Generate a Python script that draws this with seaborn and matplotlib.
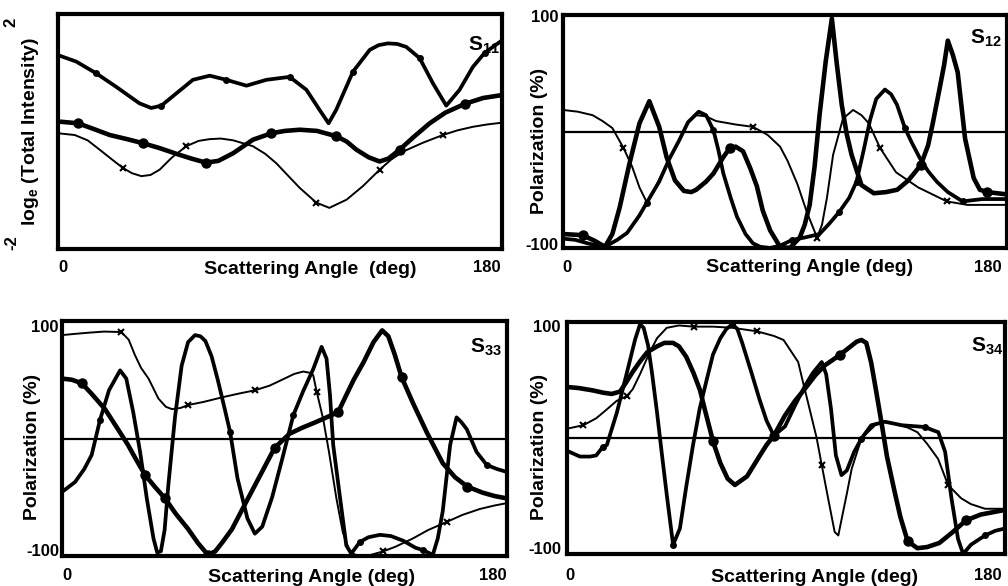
import numpy as np
import pandas as pd
import matplotlib
matplotlib.use("Agg")
import matplotlib.pyplot as plt
import seaborn as sns

# ---------------------------------------------------------------- data
# S11 : log_e of total intensity versus scattering angle (deg)
S11_A_ANG = [0, 7.4, 15.5, 23.6, 33, 37.8, 41.9, 48, 54.7, 61.5, 68.2, 76.4, 84.5, 93.9, 100.7, 106,
             109.7, 112.8, 119.6, 126.4, 130, 133.8, 137.5, 141.2, 146.6, 152, 157.4, 162.8, 168.2, 173, 180]
S11_A_VAL = [1.30, 1.19, 0.99, 0.76, 0.48, 0.40, 0.44, 0.65, 0.88, 0.95, 0.88, 0.78, 0.88, 0.93, 0.71, 0.37,
             0.14, 0.37, 1.02, 1.39, 1.47, 1.50, 1.49, 1.44, 1.25, 0.82, 0.44, 0.71, 1.10, 1.34, 1.55]
S11_A_MARK = [15.5, 41.9, 68.2, 93.9, 119.6, 146.6, 173]

S11_B_ANG = [0, 8.1, 14, 21, 28, 34.5, 41, 48, 54, 60, 65, 71, 79, 86.5, 92, 98, 105, 112.8, 117, 121,
             126, 130.4, 134, 138.5, 144, 150.7, 157, 164.9, 172.3, 180]
S11_B_VAL = [0.17, 0.14, 0.05, -0.06, -0.13, -0.20, -0.28, -0.38, -0.46, -0.53, -0.50, -0.37, -0.14, -0.03,
             0.01, 0.03, 0.01, -0.08, -0.17, -0.31, -0.44, -0.51, -0.46, -0.31, -0.10, 0.14, 0.32, 0.47, 0.57, 0.62]
S11_B_MARK = [8.1, 34.5, 60, 86.5, 112.8, 138.5, 164.9]

S11_C_ANG = [0, 6.8, 12, 16.9, 22, 26.3, 30, 33.8, 37.5, 41.2, 46, 52, 57, 61.5, 66, 71, 79, 84, 88.5, 93,
             98, 104.7, 110, 117, 123.6, 130.4, 135, 140, 148, 156, 162, 168.2, 174, 180]
S11_C_VAL = [-0.03, -0.06, -0.15, -0.31, -0.48, -0.62, -0.71, -0.76, -0.74, -0.65, -0.45, -0.25, -0.16, -0.13,
             -0.12, -0.15, -0.25, -0.38, -0.54, -0.74, -0.96, -1.21, -1.30, -1.16, -0.93, -0.65, -0.48, -0.34,
             -0.19, -0.06, 0.02, 0.08, 0.12, 0.15]
S11_C_MARK = [26.3, 52, 104.7, 130.4, 156]

# S12 : polarization (%)
S12_A_ANG = [0, 6, 12, 16, 20, 24.5, 28, 31, 34, 37, 40, 43, 47, 50.7, 54, 58, 62, 70, 77, 83, 88, 91, 95,
             99, 103, 105, 107, 109.5, 113.5, 117.6, 121, 124, 128.5, 135, 144, 155.6, 164, 172, 180]
S12_A_VAL = [18.5, 17, 14, 9, 3, -14, -30, -48, -61, -50, -37, -24, -8, 8, 14, 13, 9, 6, 4, -3, -13, -25, -45,
             -70, -91, -80, -57, -20, 11, 18.5, 14, 7, -14, -35, -48, -60, -63, -63, -63]
S12_A_MARK = [24.5, 77, 103, 128.5, 155.6]

S12_B_ANG = [0, 8, 13, 17, 20, 23, 27, 31, 35, 39, 42, 45.4, 49, 52, 54, 58, 61, 65, 67.7, 70, 73, 76, 78.6,
             81, 84, 88, 92, 96, 98, 100, 102, 104, 106.5, 109, 111, 113, 115, 117, 121, 126, 131, 135.5, 140,
             145, 148, 150, 152.5, 154.5, 156, 158, 160, 163, 166.5, 169, 172, 180]
S12_B_VAL = [-88, -89, -94, -99, -88, -65, -27, 7, 26, 4, -22, -42, -51, -52, -50, -43, -36, -22, -14, -13,
             -17, -32, -47, -68, -85, -99, -100, -91, -80, -63, -30, 14, 60, 97, 58, 23, -2, -20, -46, -53,
             -52, -50, -42, -29, -12, 8, 35, 57, 78, 66, 51, -6, -40, -50, -52, -54]
S12_B_MARK = [8, 67.7, 145, 172]

S12_C_ANG = [0, 5, 10, 14, 17.8, 22, 26, 31, 34, 39, 43, 47, 50.7, 55, 58, 61, 63, 65, 68, 70.5, 74, 77, 80,
             84, 88, 93, 98, 104, 108, 112, 116, 119, 122, 124.5, 127, 130.5, 133, 135.4, 138.6, 141.5, 144.7,
             148, 151.5, 156, 162, 170, 180]
S12_C_VAL = [-92, -93, -96, -98, -98, -93, -87, -72, -61, -43, -24, -8, 8, 17, 14, 1, -16, -36, -57, -73,
             -88, -96, -99, -100, -98, -93, -91, -88, -79, -69, -57, -43, -15, 10, 28, 36, 32, 23, 3, -10,
             -23, -34, -43, -52, -60, -58, -58]
S12_C_MARK = [34, 61, 93, 112, 119, 138.6, 162]

# S33 : polarization (%)
S33_A_ANG = [0, 5, 10.5, 17, 24, 27, 29.5, 32, 35, 39, 42, 44.5, 48, 51, 57, 64.7, 71, 78, 84, 90, 94, 97.6,
             100, 101.6, 103, 105.6, 108, 111, 113.6, 116.5, 120, 125, 130, 135, 142, 148, 155.6, 162, 169,
             175, 180]
S33_A_VAL = [88, 89, 90, 91, 90.6, 84, 71, 60, 51, 34, 27, 25, 26, 28.5, 31, 35, 38, 41, 45, 51, 55, 57, 56,
             54, 40, 17, -11.5, -51, -80, -97, -100, -99, -96, -92, -85, -78, -71, -65, -60, -57, -55]
S33_A_MARK = [24, 51, 78, 103, 130, 155.6]

S33_B_ANG = [0, 4, 8, 12, 17.4, 22, 26.7, 30, 33.6, 37.5, 41.7, 46, 51, 55, 59, 62, 65, 68.8, 73, 78, 82, 86,
             92, 97, 101.6, 106, 111.7, 115, 118, 122, 126, 129.5, 132, 134.5, 137.4, 142, 147.6, 154, 159,
             164, 170, 175, 180]
S33_B_VAL = [51, 50, 47, 38, 25, 10, -5.5, -18, -31, -41, -51, -64, -77, -89, -99, -96, -88, -77, -60, -40,
             -24, -8, 4, 9, 13, 17, 22.5, 37, 50, 65, 82, 92, 87, 72, 52, 30, 5, -21, -33, -41, -46, -49, -51]
S33_B_MARK = [8, 33.6, 41.7, 59, 86, 111.7, 137.4, 164]

S33_C_ANG = [0, 5.3, 9, 12, 15.4, 19, 23.5, 26, 28.8, 31.6, 34.3, 37, 38.5, 40, 41.5, 43, 45.7, 48.4, 51,
             53.8, 56, 58, 60.5, 63, 65.5, 68, 71, 75, 78, 81, 85, 89, 93.6, 97.5, 101.6, 105, 107, 108.4,
             109.7, 112.5, 115, 117, 120.5, 124, 128.6, 133, 138, 143, 146, 150, 152, 154, 157, 159.6, 161.5,
             163.7, 167.7, 171.8, 176, 180]
S33_C_VAL = [-45.5, -37, -26, -14, 16, 41, 58, 51, 22.5, -11.5, -51, -85, -97, -96, -78, -40, 18, 62, 82,
             88, 87, 83, 70, 50, 28, 5.5, -34, -68, -81, -75, -50, -18, 20, 40, 59, 78, 68, 37,
             -5.5, -51, -91, -98, -88, -84, -82, -83, -87, -93, -95, -99, -85, -62, -5.5, 18, 14,
             8, -11.5, -22.5, -26, -28.5]
S33_C_MARK = [15.4, 68, 93.6, 120.5, 146, 171.8]

# S34 : polarization (%)
S34_A_ANG = [0, 6.7, 12, 16, 20.4, 24.5, 27, 30, 34, 37, 41, 46, 52, 60, 68, 78, 85, 89, 92, 95, 97, 99,
             102.6, 104.7, 107.3, 110, 111.5, 112.9, 115, 117, 121, 126.6, 130, 135, 140, 144, 148, 152.5,
             156.6, 162, 166, 171.8, 180]
S34_A_VAL = [8, 11, 17, 24, 32, 36, 42, 55, 74, 86, 95, 97, 96, 96, 95, 92, 88, 84.5, 75, 65.5, 48, 31,
             0, -23.5, -52, -81, -84, -69.5, -48, -26.5, -0.5, 11, 14, 12, 9, 5, -5, -18,
             -40.5, -52, -57, -61, -61]
S34_A_MARK = [6.7, 24.5, 52, 78, 104.7, 156.6]

S34_B_ANG = [0, 5, 10.7, 15, 18.4, 21.8, 24, 27, 30, 33, 37, 40, 43.6, 46, 49, 52, 54.7, 56.7, 58.8, 60, 63,
             66, 69, 74, 79, 82, 85, 89.6, 93.7, 97.8, 102, 106, 109, 112, 116, 119, 121, 123, 125, 127,
             129.5, 131.5, 134.5, 137, 140, 144, 148, 153, 158, 164, 170, 175, 180]
S34_B_VAL = [44, 43, 41, 39, 38, 40, 47, 57, 66, 74, 79, 82, 82, 79, 70, 56, 41, 24, 7, -3, -21.5,
             -35, -40.5, -33, -16, -6, 2, 19.5, 32, 42.5, 54, 62.7, 67, 71.5, 78, 83, 84.5, 82, 65, 41,
             10, -16, -45, -68, -89, -95, -94, -90.5, -82, -71, -66, -64, -62]
S34_B_MARK = [60, 85, 112, 140, 164]

S34_C_ANG = [0, 5.3, 9.5, 12, 14.8, 16.4, 18, 20.5, 24.7, 28, 30, 31.5, 33.3, 35, 37, 39, 41, 43.6, 46.4,
             49, 51.8, 54.5, 57.5, 60, 63, 65.5, 68, 70, 72, 76, 79, 82, 85, 89.6, 93.7, 97.8, 101, 104.7,
             106.5, 108.5, 110.5, 112.8, 115, 118, 121, 125, 130.7, 137.6, 147, 150, 152.6, 155.4, 158,
             160.7, 162.8, 166, 171.8, 176, 180]
S34_C_VAL = [-11, -16, -16, -15, -7.5, -6, 5, 22, 57, 85, 98, 95, 80, 55, 22, -14, -49, -92, -78,
             -42, -6, 25, 51, 72, 86, 94, 98, 94, 82, 55, 34, 15, 2, 10, 28, 45, 56, 65.5,
             55, 25, -15, -32, -28, -12, -0.5, 11, 14, 11, 9.5, 7, 5, -12, -52,
             -87, -100, -92, -84, -80, -78]
S34_C_MARK = [14.8, 43.6, 68, 121, 147, 171.8]

# ---------------------------------------------------------------- styling
sns.set_theme(style="white")
plt.rcParams["font.family"] = ["Liberation Sans", "DejaVu Sans"]
plt.rcParams["font.weight"] = "bold"
plt.rcParams["mathtext.fontset"] = "custom"
plt.rcParams["mathtext.rm"] = "Liberation Sans:bold"
plt.rcParams["mathtext.it"] = "Liberation Sans:bold"
plt.rcParams["mathtext.bf"] = "Liberation Sans:bold"

LINE_STYLES = {
    "thin": dict(linewidth=1.4, marker="x", markersize=5, markeredgewidth=1.5),
    "medium": dict(linewidth=2.7, marker="o", markersize=5, markeredgewidth=0),
    "thick": dict(linewidth=3.3, marker="o", markersize=7.5, markeredgewidth=0),
}

W, H = 1008, 586
fig = plt.figure(figsize=(W / 100, H / 100), dpi=100)
fig.patch.set_facecolor("white")

TICK_SIZE = 12
AXLABEL_SIZE = 14
TAG_SIZE = 15


def panel(l, t, r, b, ylim):
    ax = fig.add_axes([l / W, 1 - b / H, (r - l) / W, (b - t) / H])
    ax.set_xlim(0, 180)
    ax.set_ylim(*ylim)
    ax.set_xticks([])
    ax.set_yticks([])
    ax.set_facecolor("white")
    for sp in ax.spines.values():
        sp.set_visible(True)
        sp.set_color("black")
        sp.set_linewidth(3.0)
        sp.set_zorder(5)
    return ax


def curve(ax, ang, val, marks, kind):
    assert len(ang) == len(val)
    df = pd.DataFrame({"angle": ang, "value": val})
    idx = [ang.index(m) for m in marks]
    sns.lineplot(data=df, x="angle", y="value", ax=ax, color="black",
                 estimator=None, sort=False, legend=False,
                 markevery=idx, markerfacecolor="black", markeredgecolor="black",
                 solid_joinstyle="round", solid_capstyle="round",
                 **LINE_STYLES[kind])
    ax.set_xlabel("")
    ax.set_ylabel("")


def ftext(x, y, s, size=TICK_SIZE, **kw):
    kw.setdefault("ha", "center")
    kw.setdefault("va", "center")
    fig.text(x / W, 1 - y / H, s, fontsize=size, fontweight="bold", color="black", **kw)


# ---- S11
ax1 = panel(58, 14, 502, 249, (-2, 2))
curve(ax1, S11_A_ANG, S11_A_VAL, S11_A_MARK, "medium")
curve(ax1, S11_B_ANG, S11_B_VAL, S11_B_MARK, "thick")
curve(ax1, S11_C_ANG, S11_C_VAL, S11_C_MARK, "thin")
ftext(11, 22, "2", rotation=90)
ftext(12, 243, "-2", rotation=90)
ftext(31, 131, r"log$_{\mathrm{e}}$ (Total Intensity)", size=AXLABEL_SIZE, rotation=90)
ftext(63, 268, "0")
ftext(310, 270, "Scattering Angle  (deg)", size=AXLABEL_SIZE)
ftext(487, 268, "180")
ftext(484, 45, r"S$_{11}$", size=TAG_SIZE)

# ---- S12
ax2 = panel(563, 15, 1007, 248, (-100, 100))
ax2.axhline(0, color="black", lw=1.6, zorder=1)
curve(ax2, S12_A_ANG, S12_A_VAL, S12_A_MARK, "thin")
curve(ax2, S12_B_ANG, S12_B_VAL, S12_B_MARK, "thick")
curve(ax2, S12_C_ANG, S12_C_VAL, S12_C_MARK, "medium")
ftext(558, 17, "100", ha="right")
ftext(558, 246, "-100", ha="right")
ftext(540, 141, "Polarization (%)", size=AXLABEL_SIZE, rotation=90)
ftext(567, 268, "0")
ftext(810, 268, "Scattering Angle (deg)", size=AXLABEL_SIZE)
ftext(988, 268, "180")
ftext(986, 38, r"S$_{12}$", size=TAG_SIZE)

# ---- S33
ax3 = panel(62, 321, 507, 556, (-100, 100))
ax3.axhline(0, color="black", lw=1.6, zorder=1)
curve(ax3, S33_A_ANG, S33_A_VAL, S33_A_MARK, "thin")
curve(ax3, S33_B_ANG, S33_B_VAL, S33_B_MARK, "thick")
curve(ax3, S33_C_ANG, S33_C_VAL, S33_C_MARK, "medium")
ftext(59, 327, "100", ha="right")
ftext(59, 552, "-100", ha="right")
ftext(33, 447, "Polarization (%)", size=AXLABEL_SIZE, rotation=90)
ftext(67, 576, "0")
ftext(312, 577, "Scattering Angle (deg)", size=AXLABEL_SIZE)
ftext(493, 576, "180")
ftext(486, 347, r"S$_{33}$", size=TAG_SIZE)

# ---- S34
ax4 = panel(567, 322, 1005, 554, (-100, 100))
ax4.axhline(0, color="black", lw=1.6, zorder=1)
curve(ax4, S34_A_ANG, S34_A_VAL, S34_A_MARK, "thin")
curve(ax4, S34_B_ANG, S34_B_VAL, S34_B_MARK, "thick")
curve(ax4, S34_C_ANG, S34_C_VAL, S34_C_MARK, "medium")
ftext(561, 328, "100", ha="right")
ftext(561, 550, "-100", ha="right")
ftext(540, 447, "Polarization (%)", size=AXLABEL_SIZE, rotation=90)
ftext(570, 575, "0")
ftext(815, 577, "Scattering Angle (deg)", size=AXLABEL_SIZE)
ftext(988, 575, "180")
ftext(987, 346, r"S$_{34}$", size=TAG_SIZE)

fig.savefig("out.png", dpi=100, facecolor="white")
